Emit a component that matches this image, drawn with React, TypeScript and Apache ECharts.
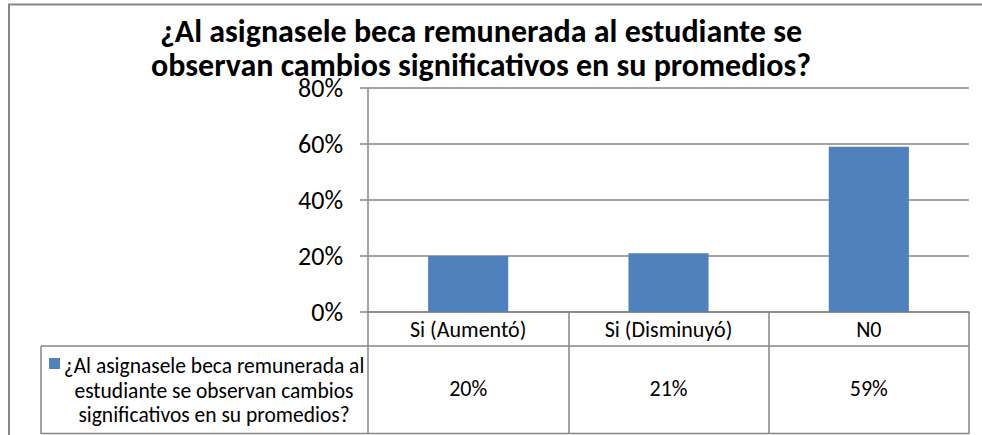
import React, { useEffect, useRef } from "react";
import * as echarts from "echarts";

const categories = ["Si (Aumentó)", "Si (Disminuyó)", "N0"];
const values = [0.2, 0.21, 0.59];
const seriesName =
  "¿Al asignasele beca remunerada al estudiante se observan cambios significativos en su promedios?";
const legendLines = [
  "¿Al asignasele beca remunerada al",
  "estudiante se observan cambios",
  "significativos en su promedios?",
];
const titleLines = [
  "¿Al asignasele beca remunerada al estudiante se",
  "observan cambios significativos en su promedios?",
];
const yMin = 0;
const yMax = 0.8;
const yInterval = 0.2;

const FONT = "Carlito, Lato, sans-serif";
const LINE = "#868686";
const BAR = "#4F81BD";
const pct = (v: number) => Math.round(v * 100) + "%";

export default function App() {
  const ref = useRef<HTMLDivElement>(null);
  useEffect(() => {
    document.body.style.margin = "0";
    document.body.style.overflow = "hidden";
    document.documentElement.style.overflow = "hidden";
    const chart = echarts.init(ref.current!, null, { renderer: "svg" });
    chart.setOption({
      animation: false,
      backgroundColor: "#fff",
      title: {
        text: titleLines.join("\n"),
        left: 476,
        top: 9,
        textAlign: "center",
        textStyle: {
          fontFamily: FONT,
          fontWeight: "bold",
          fontSize: 32,
          lineHeight: 34,
          color: "#000",
        },
      },
      grid: { left: 368, right: 13, top: 88, bottom: 123, containLabel: false },
      xAxis: [
        {
          type: "category",
          data: categories,
          axisLine: { show: true, lineStyle: { color: LINE, width: 1.5 } },
          axisTick: {
            show: true,
            length: 122,
            interval: 0,
            alignWithLabel: false,
            lineStyle: { color: LINE, width: 1.5 },
          },
          axisLabel: { margin: 6, fontSize: 22, fontFamily: FONT, color: "#000", interval: 0 },
        },
        {
          type: "category",
          data: categories,
          position: "bottom",
          axisLine: { show: false },
          axisTick: { show: false },
          axisLabel: {
            margin: 65,
            fontSize: 22,
            fontFamily: FONT,
            color: "#000",
            interval: 0,
            formatter: (_v: string, i: number) => pct(values[i]),
          },
        },
      ],
      yAxis: {
        type: "value",
        min: yMin,
        max: yMax,
        interval: yInterval,
        axisLine: { show: true, lineStyle: { color: LINE, width: 1.5 } },
        axisTick: { show: true, length: 8, lineStyle: { color: LINE, width: 1.5 } },
        splitLine: { show: true, lineStyle: { color: LINE, width: 1.5 } },
        axisLabel: {
          margin: 25,
          fontSize: 26,
          fontFamily: FONT,
          color: "#000",
          formatter: (v: number) => pct(v),
        },
      },
      series: [
        {
          name: seriesName,
          type: "bar",
          data: values,
          barCategoryGap: "60%",
          itemStyle: { color: BAR },
        },
      ],
      graphic: [
        {
          type: "polyline",
          shape: { points: [[9, 440], [9, 4.5], [990, 4.5]] },
          style: { fill: "none", stroke: LINE, lineWidth: 2 },
          silent: true,
        },
        {
          type: "line",
          shape: { x1: 41, y1: 346, x2: 969, y2: 346 },
          style: { stroke: LINE, lineWidth: 1.5 },
        },
        {
          type: "line",
          shape: { x1: 41, y1: 433.5, x2: 969, y2: 433.5 },
          style: { stroke: LINE, lineWidth: 1.5 },
        },
        {
          type: "line",
          shape: { x1: 41, y1: 346, x2: 41, y2: 434 },
          style: { stroke: LINE, lineWidth: 1.5 },
        },
        {
          type: "rect",
          shape: { x: 49, y: 358, width: 11, height: 11 },
          style: { fill: BAR },
        },
        ...legendLines.map((t, i) => ({
          type: "text",
          x: 214,
          y: 366 + i * 24.5,
          style: {
            text: t,
            fontSize: 21.5,
            fontFamily: FONT,
            fill: "#000",
            align: "center",
            verticalAlign: "middle",
          },
        })),
      ],
    });
    return () => chart.dispose();
  }, []);
  return <div ref={ref} style={{ width: 982, height: 435 }} />;
}
